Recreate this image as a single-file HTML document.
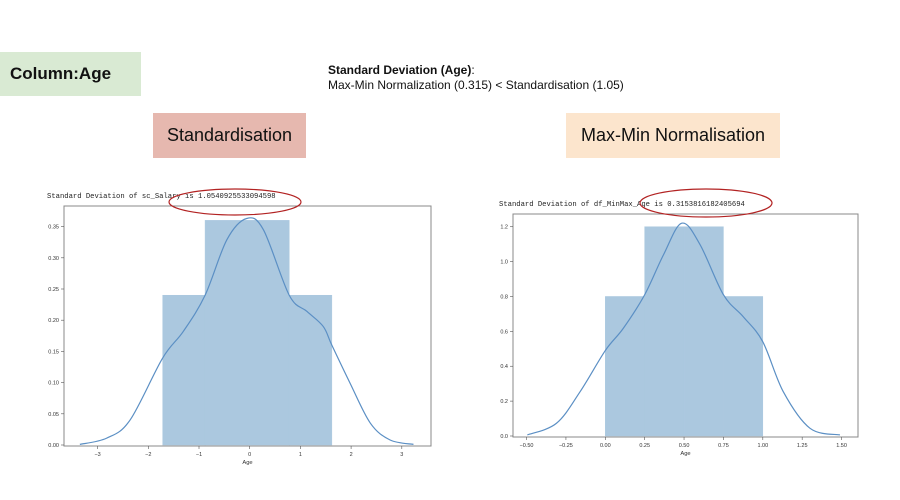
<!DOCTYPE html>
<html><head><meta charset="utf-8"><style>
body{margin:0;width:900px;height:500px;background:#fff;overflow:hidden;font-family:"Liberation Sans",sans-serif;position:relative}
.box{position:absolute;display:flex;align-items:center;justify-content:center;color:#111}
</style></head><body>
<div class="box" style="left:0;top:52px;width:141px;height:44px;background:#d9ead3;font-weight:bold;font-size:17px;justify-content:flex-start;padding-left:10px;box-sizing:border-box">Column:Age</div>
<div style="position:absolute;left:328px;top:63px;font-size:12px;line-height:15px;color:#111"><b>Standard Deviation (Age)</b>:<br>Max-Min Normalization (0.315) &lt; Standardisation (1.05)</div>
<div class="box" style="left:153px;top:113px;width:153px;height:45px;background:#e6b8af;font-size:18px">Standardisation</div>
<div class="box" style="left:566px;top:113px;width:214px;height:45px;background:#fce5cd;font-size:18px">Max-Min Normalisation</div>
<svg id="svg" width="900" height="500" style="position:absolute;left:0;top:0"></svg>
<script>
// Left chart data
const leftBinEdges=[-1.716,-0.88,-0.05,0.78,1.62];
const leftBinHeights=[0.24,0.36,0.36,0.24];
const leftKdeX=[-3.35,-2.82,-2.36,-1.72,-1.31,-0.88,-0.45,-0.06,0.27,0.78,1.13,1.45,1.62,1.98,2.38,2.77,3.23];
const leftKdeY=[0.001,0.011,0.040,0.139,0.182,0.240,0.329,0.363,0.345,0.240,0.214,0.190,0.160,0.099,0.035,0.008,0.001];
const leftXTicks=[-3,-2,-1,0,1,2,3];
const leftYTicks=["0.00","0.05","0.10","0.15","0.20","0.25","0.30","0.35"];
// Right chart data
const rightBinEdges=[0,0.25,0.5,0.75,1.0];
const rightBinHeights=[0.8,1.2,1.2,0.8];
const rightKdeX=[-0.495,-0.31,-0.16,0,0.114,0.25,0.37,0.485,0.60,0.75,0.876,1.0,1.13,1.30,1.49];
const rightKdeY=[0.006,0.073,0.254,0.49,0.617,0.81,1.04,1.22,1.10,0.81,0.684,0.54,0.254,0.044,0.006];
const rightXTicks=["-0.50","-0.25","0.00","0.25","0.50","0.75","1.00","1.25","1.50"];
const rightYTicks=["0.0","0.2","0.4","0.6","0.8","1.0","1.2"];

const NS="http://www.w3.org/2000/svg";
const svg=document.getElementById('svg');
function mk(tag,attrs,parent,text){const e=document.createElementNS(NS,tag);for(const k in attrs)e.setAttribute(k,attrs[k]);if(text!==undefined)e.textContent=text;(parent||svg).appendChild(e);return e;}
function smooth(pts){let d=`M${pts[0][0]},${pts[0][1]}`;for(let i=0;i<pts.length-1;i++){const p0=pts[Math.max(0,i-1)],p1=pts[i],p2=pts[i+1],p3=pts[Math.min(pts.length-1,i+2)];d+=` C${p1[0]+(p2[0]-p0[0])/6},${p1[1]+(p2[1]-p0[1])/6} ${p2[0]-(p3[0]-p1[0])/6},${p2[1]-(p3[1]-p1[1])/6} ${p2[0]},${p2[1]}`;}return d;}
function chart(c){
  const g=mk('g',{});
  
  
  const x=v=>c.x0+v*c.xs, y=v=>c.y0-v*c.ys;
  const t=mk('text',{x:c.tx,y:c.ty,'font-family':'Liberation Mono,monospace','font-size':7.2,fill:'#222'},g,c.title);
  
  
  for(let i=0;i<c.h.length;i++){
    const r=mk('rect',{x:x(c.e[i]),y:y(c.h[i]),width:x(c.e[i+1])-x(c.e[i]),height:y(0)-y(c.h[i]),fill:'#abc8df',stroke:'#abc8df','stroke-width':0.5},g);
    
    
  }
  const p=mk('path',{d:smooth(c.kx.map((v,i)=>[x(v),y(c.ky[i])])),fill:'none',stroke:'#5b8fc4','stroke-width':1.2},g);
  
  
  const fr=mk('rect',{x:c.bx0,y:c.by0,width:c.bx1-c.bx0,height:c.by1-c.by0,fill:'none',stroke:'#888','stroke-width':1},g);
  
  
  c.xt.forEach(s=>{const v=parseFloat(s),px=x(v);
    mk('line',{x1:px,x2:px,y1:c.by1,y2:c.by1+3,stroke:'#555','stroke-width':0.6},g);
    const tt=mk('text',{x:px,y:c.by1+10,'font-size':5.5,'text-anchor':'middle',fill:'#333'},g,String(s).replace('-','−'));
    
    });
  c.yt.forEach(s=>{const v=parseFloat(s),py=y(v);
    mk('line',{x1:c.bx0-3,x2:c.bx0,y1:py,y2:py,stroke:'#555','stroke-width':0.6},g);
    const tt=mk('text',{x:c.bx0-5,y:py+2,'font-size':5.5,'text-anchor':'end',fill:'#333'},g,s);
    
    });
  const xl=mk('text',{x:(c.bx0+c.bx1)/2,y:c.by1+18,'font-size':5.8,'text-anchor':'middle',fill:'#333'},g,'Age');
  
  
  const el=mk('ellipse',{cx:c.ecx,cy:c.ecy,rx:c.erx,ry:c.ery,fill:'none',stroke:'#b22222','stroke-width':1.2},g);
  
  
}
chart({name:'standardised-chart',x0:249.7,xs:50.7,y0:445,ys:624,e:leftBinEdges,h:leftBinHeights,kx:leftKdeX,ky:leftKdeY,xt:leftXTicks,yt:leftYTicks,
  bx0:64,bx1:431,by0:206,by1:446,tx:47,ty:198,title:'Standard Deviation of sc_Salary is 1.0540925533094598',ecx:235,ecy:202,erx:66,ery:13});
chart({name:'minmax-chart',x0:605.3,xs:157.5,y0:436,ys:174.4,e:rightBinEdges,h:rightBinHeights,kx:rightKdeX,ky:rightKdeY,xt:rightXTicks,yt:rightYTicks,
  bx0:513,bx1:858,by0:214,by1:437,tx:499,ty:206,title:'Standard Deviation of df_MinMax_Age is 0.3153816182405694',ecx:706,ecy:203,erx:66,ery:14});
</script>
</body></html>
